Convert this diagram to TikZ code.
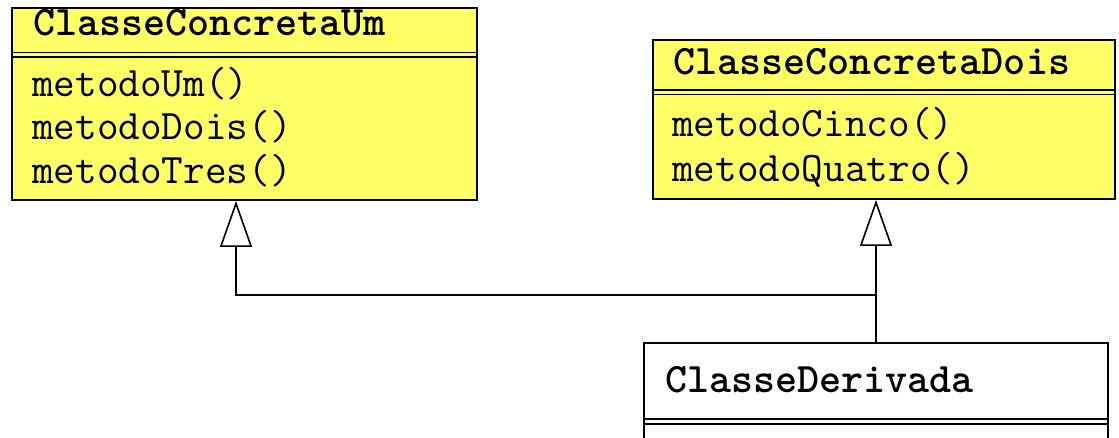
\documentclass[tikz,border=0pt]{standalone}
\usetikzlibrary{arrows.meta}
\definecolor{umlyellow}{RGB}{255,255,102}
\newcommand{\umlsize}{\fontsize{42}{42}\selectfont}
\begin{document}
\begin{tikzpicture}[
  x=1pt,y=-1pt,
  classbox/.style={draw, line width=2pt, fill=umlyellow, anchor=north west, inner sep=0pt},
  plainbox/.style={classbox, fill=white},
  sepline/.style={line width=1.8pt},
  cname/.style={font=\ttfamily\umlsize\bfseries, anchor=base west, inner sep=0pt},
  cmethod/.style={font=\ttfamily\umlsize, anchor=base west, inner sep=0pt},
  inherit/.style={line width=1.6pt, -{Triangle[fill=white, length=46pt, width=32pt]}}
]
\useasboundingbox (0,0) rectangle (1119,438);
\clip (0,0) rectangle (1119,438);

\node[classbox, minimum width=465pt, minimum height=192pt] (um) at (11,7) {};
\draw[sepline] ([yshift=-45.5pt]um.north west) -- ([yshift=-45.5pt]um.north east);
\draw[sepline] ([yshift=-50pt]um.north west) -- ([yshift=-50pt]um.north east);
\node[cname]   (umName) at (33,36)  {ClasseConcretaUm};
\node[cmethod] (umOne)  at (32,97)  {metodoUm()};
\node[cmethod] (umTwo)  at (32,140) {metodoDois()};
\node[cmethod] (umThree) at (32,184) {metodoTres()};

\node[classbox, minimum width=462pt, minimum height=159pt] (cd) at (652,39) {};
\draw[sepline] ([yshift=-51pt]cd.north west) -- ([yshift=-51pt]cd.north east);
\draw[sepline] ([yshift=-55.5pt]cd.north west) -- ([yshift=-55.5pt]cd.north east);
\node[cname]   (cdName)  at (673,75)  {ClasseConcretaDois};
\node[cmethod] (cdFive)  at (672,137) {metodoCinco()};
\node[cmethod] (cdFour)  at (672,182) {metodoQuatro()};

\node[plainbox, minimum width=464pt, minimum height=118pt] (der) at (643,342) {};
\draw[sepline] ([yshift=-77pt]der.north west) -- ([yshift=-77pt]der.north east);
\draw[sepline] ([yshift=-82pt]der.north west) -- ([yshift=-82pt]der.north east);
\node[cname]   (derName) at (665,392) {ClasseDerivada};

% generalizations
\coordinate (joint) at (der.north |- 0,295);
\draw[inherit] (der.north) -- (der.north |- cd.south);
\draw[inherit] (joint) -| ([xshift=-8.5pt]um.south);
\end{tikzpicture}
\end{document}
